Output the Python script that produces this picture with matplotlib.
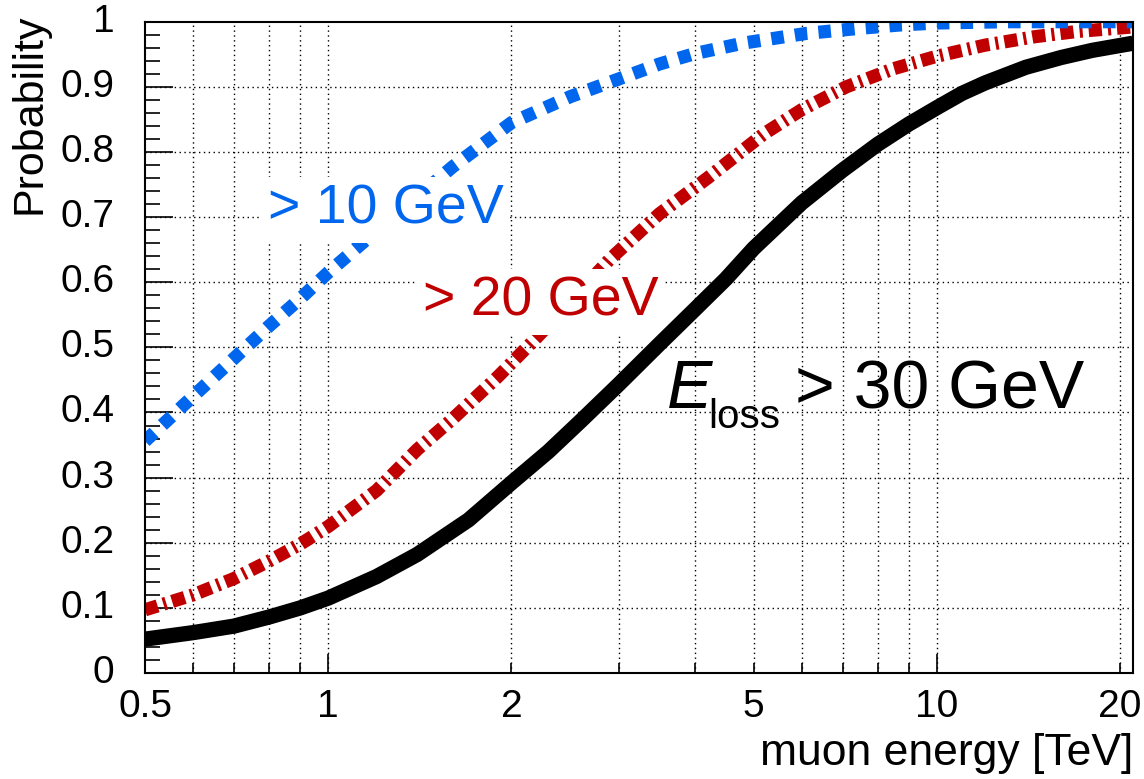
import numpy as np
import matplotlib
matplotlib.use("Agg")
import matplotlib.pyplot as plt
from matplotlib.ticker import FixedLocator, NullFormatter, FixedFormatter

plt.rcParams['font.family'] = ['Liberation Sans', 'DejaVu Sans']

# ---- data ----
e_black = [0.5, 0.6, 0.7, 0.8, 0.9, 1.0, 1.2, 1.4, 1.7, 2.0, 2.3, 2.6, 3.0, 3.5,
           4.0, 4.5, 5.0, 6.0, 7.0, 8.0, 9.0, 10, 11, 12, 14, 16, 18, 21]
p_black = [0.052, 0.062, 0.072, 0.086, 0.100, 0.115, 0.148, 0.182, 0.235, 0.292,
           0.340, 0.387, 0.443, 0.505, 0.558, 0.605, 0.652, 0.722, 0.772, 0.812,
           0.843, 0.868, 0.890, 0.906, 0.930, 0.945, 0.956, 0.967]

e_red = [0.5, 0.6, 0.7, 0.8, 0.9, 1.0, 1.2, 1.4, 1.6, 1.9, 2.2, 2.5, 2.9, 3.5,
         4.2, 5.2, 6.0, 7.1, 8.5, 10, 12, 14.5, 17, 21]
p_red = [0.097, 0.120, 0.145, 0.172, 0.198, 0.225, 0.280, 0.343, 0.390, 0.455,
         0.515, 0.570, 0.635, 0.705, 0.760, 0.828, 0.865, 0.900, 0.928, 0.947,
         0.964, 0.977, 0.985, 0.992]

e_blue = [0.5, 0.6, 0.7, 0.8, 0.9, 1.0, 1.15, 1.3, 1.6, 2.0, 2.5, 3.0, 3.5, 4.0,
          4.8, 6.1, 7.5, 8.7, 10, 13, 21]
p_blue = [0.356, 0.425, 0.483, 0.533, 0.575, 0.615, 0.664, 0.705, 0.777, 0.845,
          0.885, 0.912, 0.935, 0.951, 0.967, 0.982, 0.990, 0.995, 0.998, 1.0, 1.0]

x_major_labels = ['0.5', '1', '2', '5', '10', '20']
x_label_pos = [0.5, 1, 2, 5, 10, 20]
y_ticks = [0, 0.1, 0.2, 0.3, 0.4, 0.5, 0.6, 0.7, 0.8, 0.9, 1.0]
y_tick_labels = ['0', '0.1', '0.2', '0.3', '0.4', '0.5', '0.6', '0.7', '0.8', '0.9', '1']

BLUE = '#0066ee'
RED = '#c00000'

fig = plt.figure(figsize=(11.44, 7.79), dpi=100)
ax = fig.add_axes([145/1144, 1-673/779, (1133-145)/1144, (673-21.7)/779])
ax.set_xscale('log')
ax.set_xlim(0.5, 21)
ax.set_ylim(0, 1)

ax.plot(e_black, p_black, color='black', lw=11, solid_capstyle='butt',
        solid_joinstyle='round', zorder=6)
ax.plot(e_red, p_red, color=RED, lw=9.5, dashes=(1.0, 0.46, 0.23, 0.46),
        dash_capstyle='butt', zorder=3)
ax.plot(e_blue, p_blue, color=BLUE, lw=9.5, dashes=(0.95, 0.85),
        dash_capstyle='butt', zorder=3)

# ticks
x_minor = [0.6, 0.7, 0.8, 0.9, 2, 3, 4, 5, 6, 7, 8, 9, 20]
ax.xaxis.set_major_locator(FixedLocator([1, 10]))
ax.xaxis.set_minor_locator(FixedLocator(x_minor))
ax.xaxis.set_major_formatter(NullFormatter())
ax.xaxis.set_minor_formatter(NullFormatter())
ax.tick_params(axis='x', which='major', direction='in', length=14, width=1.2, bottom=True, top=False)
ax.tick_params(axis='x', which='minor', direction='in', length=7, width=1.2, bottom=True, top=False)

ax.yaxis.set_major_locator(FixedLocator(y_ticks))
ax.yaxis.set_minor_locator(FixedLocator(np.round(np.arange(0.02, 1.0, 0.02), 2)))
ax.yaxis.set_major_formatter(FixedFormatter(y_tick_labels))
ax.tick_params(axis='y', which='major', direction='in', length=20, width=1.2,
               labelsize=28, pad=22, left=True, right=False)
ax.tick_params(axis='y', which='minor', direction='in', length=11, width=1.2, left=True, right=False)

for lab in ax.get_yticklabels():
    lab.set_verticalalignment('center')

# x tick labels
for xv, lab in zip(x_label_pos, x_major_labels):
    ax.text(xv, -0.024, lab, transform=ax.get_xaxis_transform(), ha='center', va='top',
            fontsize=28)

# grid
for xv in [0.6, 0.7, 0.8, 0.9, 1, 2, 3, 4, 5, 6, 7, 8, 9, 10, 20]:
    ax.axvline(xv, color='black', lw=1.0, linestyle=(0, (1, 2.5)), zorder=1)
for yv in y_ticks[1:-1]:
    ax.axhline(yv, color='black', lw=1.0, linestyle=(0, (1, 2.5)), zorder=1)

for s in ax.spines.values():
    s.set_linewidth(1.5)
    s.set_zorder(7)

# annotations
ax.text(268/1144, 1-210/779, '> 10 GeV', transform=fig.transFigure, fontsize=40,
        color=BLUE, ha='left', va='center', zorder=5,
        bbox=dict(boxstyle='square,pad=0.12', facecolor='white', edgecolor='none'))
ax.text(423/1144, 1-302/779, '> 20 GeV', transform=fig.transFigure, fontsize=40,
        color=RED, ha='left', va='center', zorder=5,
        bbox=dict(boxstyle='square,pad=0.12', facecolor='white', edgecolor='none'))
ax.text(667/1144, 1-408/779, 'E', transform=fig.transFigure, fontsize=49,
        style='italic', color='black', ha='left', va='baseline', zorder=5)
ax.text(708/1144, 1-428/779, 'loss', transform=fig.transFigure, fontsize=29,
        color='black', ha='left', va='baseline', zorder=5)
ax.text(795/1144, 1-408/779, '> 30 GeV', transform=fig.transFigure, fontsize=49,
        color='black', ha='left', va='baseline', zorder=5)

fig.text(1133/1144, 1-765/779, 'muon energy [TeV]', ha='right', va='baseline', fontsize=32)
fig.text(30/1144, 1-14/779, 'Probability', ha='center', va='top', rotation=90, fontsize=31)

fig.savefig('out.png', dpi=100)
